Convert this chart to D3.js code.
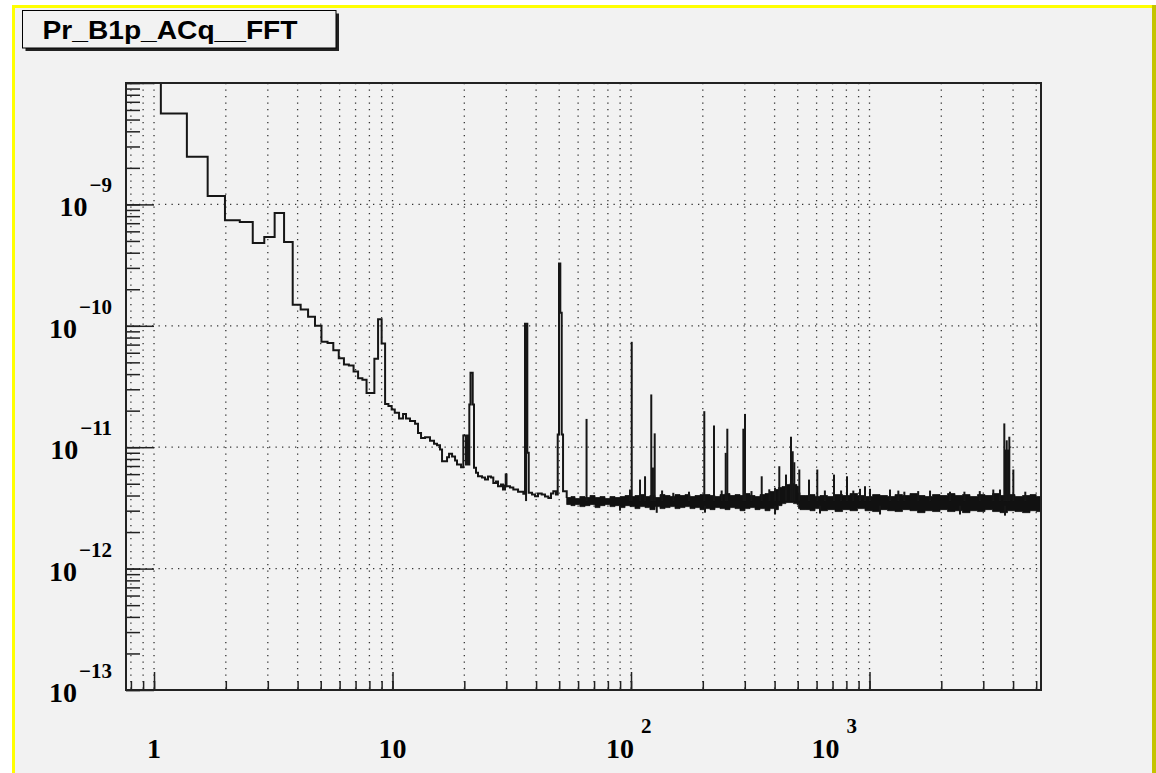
<!DOCTYPE html>
<html lang="en">
<head>
<meta charset="utf-8" />
<title>Pr_B1p_ACq__FFT</title>
<script src="https://cdn.jsdelivr.net/npm/d3@7"></script>
<style>
  html, body { margin: 0; padding: 0; background: #fff; }
  svg { display: block; }
  .lab { font-family: "Liberation Serif", "DejaVu Serif", serif; font-weight: bold; fill: #000; }
  .title { font-family: "Liberation Sans", Arial, sans-serif; font-weight: bold; font-size: 26px; fill: #000; }
  .tick line { stroke: #222; stroke-width: 1.5; }
</style>
</head>
<body>
<svg id="chart" width="1156" height="773"></svg>
<script>
// ---- values ----
var binWidthHz = 0.30518;            // FFT bin spacing (Hz)

// wide low-frequency bins (bin index, value)
var lowBins = [3, 4, 5, 6, 7, 8, 9, 10, 11, 12, 13, 14, 15, 16, 17, 18, 19, 20,
               21, 22, 23, 24, 25, 26, 27, 28, 29, 30, 31, 32, 33];
var lowBinVal = [1.5e-8, 5.6e-9, 2.47e-9, 1.17e-9, 7.4e-10, 7.15e-10, 4.8e-10, 5.4e-10,
                 8.5e-10, 4.9e-10, 1.49e-10, 1.36e-10, 1.19e-10, 1.0e-10, 7.4e-11, 7.2e-11,
                 6.3e-11, 5.4e-11, 4.8e-11, 4.7e-11, 4.2e-11, 3.7e-11, 3.6e-11, 2.8e-11,
                 2.8e-11, 5.35e-11, 1.13e-10, 7.15e-11, 2.27e-11, 2.18e-11, 2.04e-11];

// 10 - 54 Hz, trace read step by step
var fineHz = [10.22, 10.65, 11.07, 11.39, 11.84, 12.43, 12.79, 13.17, 13.69, 14.36,
              14.93, 15.37, 15.82, 16.13, 16.93, 17.26, 17.77, 18.29, 18.64, 19.38,
              19.81, 20.33, 20.53, 20.78, 20.99, 21.23, 21.69, 21.96, 22.39, 22.83,
              23.73, 24.43, 25.14, 25.88, 26.46, 27.16, 27.69, 28.5, 29.06, 29.63,
              29.83, 30.06, 31.09, 32.1, 33.6, 35.35, 35.94, 36.75, 37.25, 38.46,
              39.59, 40.75, 42.23, 43.6, 45.02, 46.19, 47.23, 48.47, 49.28, 49.9,
              50.53, 51.22, 51.88, 53.75];
var fineVal = [1.92e-11, 1.72e-11, 1.88e-11, 1.72e-11, 1.64e-11, 1.56e-11, 1.31e-11, 1.19e-11, 1.21e-11, 1.13e-11,
               1.07e-11, 1.04e-11, 9.56e-12, 7.66e-12, 8.27e-12, 8.82e-12, 8.38e-12, 7.76e-12, 7.2e-12, 6.84e-12,
               1.25e-11, 7.2e-12, 1.25e-11, 7.2e-12, 2.25e-11, 4.1e-11, 2.25e-11, 6.76e-12, 6.15e-12, 5.76e-12,
               5.62e-12, 5.41e-12, 5.73e-12, 5.62e-12, 5.08e-12, 5.21e-12, 4.77e-12, 4.92e-12, 4.48e-12, 4.83e-12,
               5.95e-12, 4.77e-12, 4.65e-12, 4.48e-12, 4.29e-12, 4.13e-12, 1.04e-10, 8.98e-12, 4.21e-12, 4.07e-12,
               3.94e-12, 4.15e-12, 4.07e-12, 3.92e-12, 3.82e-12, 4.15e-12, 4.34e-12, 4.07e-12, 1.27e-11, 3.26e-10,
               1.28e-10, 1.27e-11, 4.34e-12, 3.82e-12];

// noise floor above ~54 Hz: upper and lower envelope, in units of 1e-12
var bandUnit = 1e-12;
var bandHz = [53.75, 56, 58.25, 61, 64.14, 67.3, 70.66, 74.1, 77.8, 81.6,
              85.7, 90, 94.4, 99, 103.9, 109, 114.5, 120, 126.1, 132.3,
              138.9, 145.8, 152.9, 160.5, 168.4, 176.7, 185.5, 194.7, 204.3, 214.4,
              225, 236.2, 247.9, 260, 273, 286.5, 300.6, 315.5, 331.1, 347.5,
              364.6, 382.7, 401.7, 415, 429.6, 446, 464.2, 480, 496.6, 504,
              511.2, 537, 563, 591, 620.2, 667, 716.8, 771, 828.4, 891,
              957.5, 1030, 1107, 1190, 1279, 1375, 1478, 1590, 1709, 1837,
              1975, 2124, 2283, 2454, 2638, 2836, 3050, 3280, 3526, 3790,
              4075, 4380, 4710, 5000, 5237];
var bandHi = [3.85, 3.92, 3.78, 3.92, 3.85, 4.0, 3.85, 3.92, 3.78, 3.92,
              3.85, 3.92, 4.0, 3.92, 4.0, 4.07, 3.92, 4.0, 3.85, 4.07,
              4.0, 3.92, 4.07, 4.0, 4.07, 3.92, 4.0, 4.07, 4.07, 4.0,
              3.92, 4.07, 4.15, 4.0, 4.07, 4.0, 4.15, 4.0, 3.92, 4.07,
              4.15, 4.31, 4.48, 4.65, 4.74, 4.92, 5.02, 4.92, 4.74, 4.23,
              4.0, 4.0, 4.07, 3.92, 4.0, 3.92, 4.07, 4.0, 4.15, 4.0,
              3.92, 4.07, 4.0, 3.92, 4.07, 4.0, 4.15, 4.0, 3.92, 4.07,
              4.0, 4.15, 4.0, 4.07, 3.92, 4.07, 4.0, 4.15, 4.0, 4.07,
              3.92, 4.0, 4.07, 3.92, 3.92];
var bandLo = [3.37, 3.30, 3.37, 3.24, 3.30, 3.37, 3.18, 3.30, 3.37, 3.24,
              3.30, 3.18, 3.30, 3.24, 3.12, 3.24, 3.18, 3.06, 3.24, 3.12,
              3.18, 3.24, 3.12, 3.18, 3.24, 3.12, 3.18, 3.06, 3.12, 3.06,
              3.18, 3.12, 3.06, 3.18, 3.12, 3.0, 3.12, 3.18, 3.06, 3.12,
              3.0, 3.12, 3.06, 3.30, 3.43, 3.50, 3.50, 3.43, 3.37, 3.12,
              3.06, 3.06, 3.0, 3.12, 3.0, 3.06, 2.95, 3.06, 3.0, 3.12,
              3.0, 2.95, 3.06, 3.0, 2.95, 3.06, 3.0, 2.89, 3.0, 2.95,
              3.06, 2.95, 3.0, 2.89, 3.0, 2.95, 3.06, 2.95, 2.89, 3.0,
              2.95, 2.89, 3.0, 2.95, 2.95];

// narrow lines standing out of the floor
var spikeHz = [36.3, 65.1, 99.0, 100.7, 109.1, 114.5, 121.6, 123.6, 125.7, 135,
               150.4, 175, 202.9, 222.8, 240, 249.5, 253.4, 295.8, 300.6, 320,
               353.2, 380, 401.7, 418.6, 446.6, 468.7, 476.4, 483.9, 507.8, 557.6,
               604.0, 650, 709.9, 760, 804.9, 855.3, 912.5, 957.5, 1004.9, 1219,
               1321, 1400, 1600, 1794, 2175, 2500, 2900, 3304, 3526, 3675,
               3718, 3761, 3810, 3857, 4009, 4500];
var spikeVal = [1.02e-10, 1.71e-11, 4.48e-12, 7.38e-11, 5.41e-12, 5.76e-12, 2.72e-11, 6.8e-12, 1.30e-11, 4.4e-12,
                4.21e-12, 4.3e-12, 1.98e-11, 1.51e-11, 4.4e-12, 8.98e-12, 1.42e-11, 1.42e-11, 1.88e-11, 4.35e-12,
                5.76e-12, 4.5e-12, 4.64e-12, 6.97e-12, 5.95e-12, 1.22e-11, 9.26e-12, 7.52e-12, 6.55e-12, 5.41e-12,
                6.55e-12, 4.4e-12, 5.95e-12, 4.4e-12, 5.76e-12, 4.39e-12, 4.54e-12, 4.77e-12, 4.54e-12, 4.48e-12,
                4.39e-12, 4.3e-12, 4.35e-12, 4.39e-12, 4.3e-12, 4.3e-12, 4.35e-12, 4.48e-12, 4.48e-12, 1.57e-11,
                9.56e-12, 1.14e-11, 9.56e-12, 1.22e-11, 6.55e-12, 4.3e-12];

// downward dips below the floor
var dipHz = [89.9, 128.2, 204.3, 401.7, 620.2, 1107, 2396, 3699];
var dipVal = [3.0e-12, 2.88e-12, 2.89e-12, 2.79e-12, 2.84e-12, 2.79e-12, 2.79e-12, 2.73e-12];

// axis labels
var yLabelExp = [-13, -12, -11, -10, -9];
var xLabelVals = [1, 10, 100, 1000];
var xLabelBase = ["1", "10", "10", "10"];
var xLabelSup = ["", "", "2", "3"];
var xLabelShift = [0, 0, -11, -44];

// ---- layout ----
var svg = d3.select("#chart");
var frame = {l: 126, r: 1041, t: 83, b: 690};

var x = d3.scaleLog().domain([2.5 * binWidthHz, 5237]).range([frame.l, frame.r]);
var y = d3.scaleLog().domain([1e-13, 1e-8]).range([frame.b, frame.t]);

function isDecade(v) {
  var l = Math.log10(v);
  return Math.abs(l - Math.round(l)) < 1e-6;
}

// pad background and yellow border
svg.append("rect").attr("x", 12).attr("y", 5).attr("width", 1144).attr("height", 768).attr("fill", "#f2f2f2");
svg.append("rect").attr("x", 12).attr("y", 5).attr("width", 3).attr("height", 768).attr("fill", "#ffff00");
svg.append("rect").attr("x", 12).attr("y", 5).attr("width", 1144).attr("height", 3).attr("fill", "#ffff00");
svg.append("rect").attr("x", 1152).attr("y", 5).attr("width", 4).attr("height", 768).attr("fill", "#c4c400");

// grid
var grid = svg.append("g").attr("stroke", "#333").attr("stroke-width", 1.3)
    .attr("stroke-dasharray", "1.3,5.2").attr("fill", "none");
x.ticks().forEach(function(v) {
  var px = x(v);
  if (px <= frame.l + 1 || px >= frame.r - 1) return;
  grid.append("line").attr("x1", px).attr("x2", px).attr("y1", frame.t).attr("y2", frame.b);
});
y.ticks().filter(isDecade).forEach(function(v) {
  var py = y(v);
  if (py <= frame.t + 1 || py >= frame.b - 1) return;
  grid.append("line").attr("x1", frame.l).attr("x2", frame.r).attr("y1", py).attr("y2", py);
});

// data
svg.append("clipPath").attr("id", "clip")
  .append("rect").attr("x", frame.l).attr("y", frame.t)
  .attr("width", frame.r - frame.l).attr("height", frame.b - frame.t);
var plot = svg.append("g").attr("clip-path", "url(#clip)");

var trace = [];
lowBins.forEach(function(k, i) { trace.push([(k - 0.5) * binWidthHz, lowBinVal[i]]); });
fineHz.forEach(function(f, i) { trace.push([f, fineVal[i]]); });

var line = d3.line()
    .x(function(d) { return x(d[0]); })
    .y(function(d) { return y(d[1]); })
    .curve(d3.curveStepAfter);

plot.append("path").datum(trace)
    .attr("d", line)
    .attr("fill", "none")
    .attr("stroke", "#161616")
    .attr("stroke-width", 2);

var band = bandHz.map(function(f, i) { return [f, bandHi[i] * bandUnit, bandLo[i] * bandUnit]; });
var area = d3.area()
    .x(function(d) { return x(d[0]); })
    .y0(function(d) { return y(d[2]); })
    .y1(function(d) { return y(d[1]); })
    .curve(d3.curveStepAfter);

plot.append("path").datum(band)
    .attr("d", area)
    .attr("fill", "#111")
    .attr("stroke", "#111")
    .attr("stroke-width", 0.8);

plot.append("g").selectAll("line")
  .data(spikeHz.map(function(f, i) { return [f, spikeVal[i]]; }))
  .enter().append("line")
    .attr("x1", function(d) { return x(d[0]); })
    .attr("x2", function(d) { return x(d[0]); })
    .attr("y1", y(3.6e-12))
    .attr("y2", function(d) { return y(d[1]); })
    .attr("stroke", "#161616")
    .attr("stroke-width", 2);

plot.append("g").selectAll("line")
  .data(dipHz.map(function(f, i) { return [f, dipVal[i]]; }))
  .enter().append("line")
    .attr("x1", function(d) { return x(d[0]); })
    .attr("x2", function(d) { return x(d[0]); })
    .attr("y1", y(3.3e-12))
    .attr("y2", function(d) { return y(d[1]); })
    .attr("stroke", "#161616")
    .attr("stroke-width", 2);

// ticks (ROOT style: drawn inwards)
function strip(g) { g.select(".domain").remove(); g.selectAll("text").remove(); }
svg.append("g").attr("transform", "translate(0," + frame.b + ")")
  .call(d3.axisBottom(x).tickValues(x.ticks()).tickSize(-9).tickFormat(""))
  .call(strip);
svg.append("g").attr("transform", "translate(0," + frame.b + ")")
  .call(d3.axisBottom(x).tickValues(x.ticks().filter(isDecade)).tickSize(-18).tickFormat(""))
  .call(strip);
svg.append("g").attr("transform", "translate(" + frame.l + ",0)")
  .call(d3.axisLeft(y).tickValues(y.ticks()).tickSize(-14).tickFormat(""))
  .call(strip);
svg.append("g").attr("transform", "translate(" + frame.l + ",0)")
  .call(d3.axisLeft(y).tickValues(y.ticks().filter(isDecade)).tickSize(-28).tickFormat(""))
  .call(strip);

// frame
svg.append("rect")
    .attr("x", frame.l).attr("y", frame.t)
    .attr("width", frame.r - frame.l).attr("height", frame.b - frame.t)
    .attr("fill", "none").attr("stroke", "#222").attr("stroke-width", 2);

// y labels
yLabelExp.forEach(function(e) {
  var py = y(Math.pow(10, e));
  var t = svg.append("text").attr("class", "lab")
      .attr("x", 112).attr("y", py + 12)
      .attr("text-anchor", "end");
  t.append("tspan").attr("font-size", 28).text("10");
  t.append("tspan").attr("font-size", 21).attr("dx", 2).attr("dy", -24)
    .text("\u2212" + Math.abs(e));
});

// x labels
xLabelVals.forEach(function(v, i) {
  var t = svg.append("text").attr("class", "lab")
      .attr("x", x(v) + xLabelShift[i]).attr("y", 758)
      .attr("font-size", 28)
      .attr("text-anchor", "middle")
      .text(xLabelBase[i]);
  if (xLabelSup[i]) {
    var bb = t.node().getBBox();
    svg.append("text").attr("class", "lab")
      .attr("x", bb.x + bb.width + 7).attr("y", 733)
      .attr("font-size", 21)
      .text(xLabelSup[i]);
  }
});

// title box
svg.append("rect").attr("x", 25.5).attr("y", 13.5).attr("width", 313.5).attr("height", 37.5).attr("fill", "#222");
svg.append("rect").attr("x", 22.5).attr("y", 10.5).attr("width", 313.5).attr("height", 37.5)
    .attr("fill", "#f2f2f2").attr("stroke", "#000").attr("stroke-width", 1);
svg.append("text").attr("class", "title")
    .attr("x", 42.5).attr("y", 38.5)
    .attr("textLength", 255).attr("lengthAdjust", "spacingAndGlyphs")
    .text("Pr_B1p_ACq__FFT");
</script>
</body>
</html>
